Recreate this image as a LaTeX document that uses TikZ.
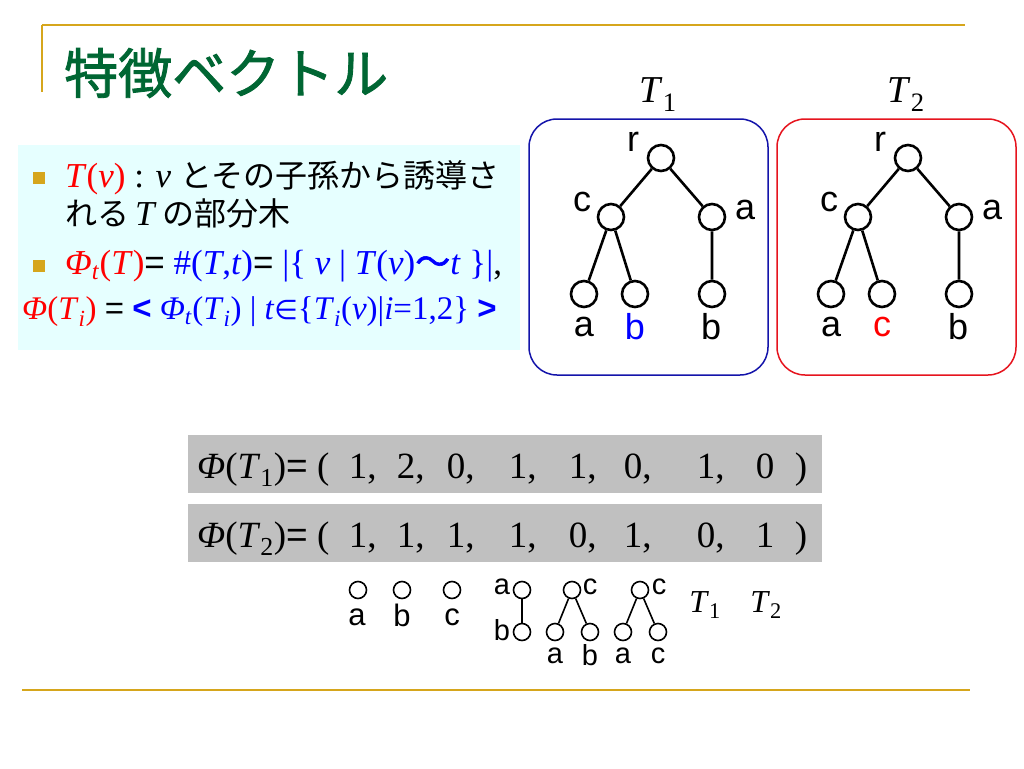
\documentclass[tikz,border=0pt]{standalone}
\usepackage{fontspec}
\setmainfont{Liberation Serif}
\newfontfamily\arial{Liberation Sans}
\newfontfamily\jp{Noto Sans CJK JP}
\newfontfamily\jpbold[FakeBold=1.6]{Noto Sans CJK JP}
\newfontfamily\dvs{DejaVu Sans}
\usepackage{tikz}
\definecolor{gold}{RGB}{214,166,28}
\definecolor{titlegreen}{RGB}{0,102,51}
\definecolor{panelcyan}{RGB}{230,255,255}
\definecolor{rowgray}{RGB}{192,192,192}
\definecolor{treeblue}{RGB}{20,20,170}
\definecolor{treered}{RGB}{230,20,30}
\newcommand{\fs}[1]{\fontsize{#1}{#1}\selectfont}
\newcommand{\ti}[1]{\textit{#1}}
\newcommand{\sbs}[1]{\textsubscript{#1}}

\begin{document}
\begin{tikzpicture}[x=1pt, y=-1pt,
  vtx/.style={circle,draw,line width=2.6,minimum size=26,inner sep=0},
  dot/.style={circle,draw,line width=1.6,minimum size=17,inner sep=0},
  lbl/.style={inner sep=0,font=\arial\fs{36}},
  slbl/.style={inner sep=0,font=\arial\fs{31}},
  tlbl/.style={inner sep=0,font=\arial\fs{29}},
  txt/.style={anchor=west,inner sep=0,font=\fs{35}},
  num/.style={anchor=base,inner sep=0,font=\fs{37}}]

\useasboundingbox (0,0) rectangle (1024,768);
\fill[white] (0,0) rectangle (1024,768);

% title
\draw[gold,line width=1.8] (42,25) -- (965,25);
\draw[gold,line width=1.8] (42,25) -- (42,92);
\node[anchor=west,inner sep=0,text=titlegreen,font=\jpbold\fs{54}] (title) at (64,73) {特徴ベクトル};
\draw[gold,line width=1.8] (22,690) -- (970,690);

% definitions
\fill[panelcyan] (18,145) rectangle (520,350);
\fill[gold] (33,172) rectangle (45,184);
\fill[gold] (33,260) rectangle (45,272);

\node[txt] (def1) at (65,178) {{\color{red}\ti{T}(\ti{v})} : \ti{v} {\jp\fs{32}とその子孫から誘導さ}};
\node[txt] (def2) at (65,213) {{\jp\fs{32}れる}\,\ti{T}\,{\jp\fs{32}の部分木}};
\node[txt] (def3) at (65,266) {{\color{red}\ti{Φ}\sbs{\ti{t}}(\ti{T})}{\arial =} {\color{blue}\#(\ti{T},\ti{t})}{\arial =} {\color{blue}|\{ \ti{v} | \ti{T}(\ti{v}){\jpbold 〜}\ti{t} \}|},};
\node[txt,font=\fs{33}] (def4) at (22,312) {{\color{red}\ti{Φ}(\ti{T}\sbs{\ti{i}})} {\arial =} {\color{blue}{\arial\bfseries <} \ti{Φ}\sbs{\ti{t}}(\ti{T}\sbs{\ti{i}}) | \ti{t}{\dvs\fs{27}∈}\{\ti{T}\sbs{\ti{i}}(\ti{v})|\ti{i}=1,2\} {\arial\bfseries >}}};

% trees
\node[inner sep=0,font=\fs{38}] (name1) at (658,95) {\ti{T}\sbs{1}};
\node[inner sep=0,font=\fs{38}] (name2) at (906,95) {\ti{T}\sbs{2}};
\draw[treeblue,line width=1.5,rounded corners=28] (529,119) rectangle (768,375);
\draw[treered,line width=1.5,rounded corners=28] (777,119) rectangle (1016,375);

\node[vtx] (r1) at (661,158) {};
\node[vtx] (c1) at (611,217) {};
\node[vtx] (a1) at (712,217) {};
\node[vtx] (ca1) at (584,294) {};
\node[vtx] (cb1) at (635,294) {};
\node[vtx] (ab1) at (712,294) {};
\draw[line width=2.6] (r1) -- (c1) (r1) -- (a1) (c1) -- (ca1) (c1) -- (cb1) (a1) -- (ab1);
\node[lbl] at (633,142) {r};
\node[lbl] at (582,202) {c};
\node[lbl] at (745,210) {a};
\node[lbl] at (584,327) {a};
\node[lbl,text=blue] at (635,327) {b};
\node[lbl] at (711,327) {b};

\node[vtx] (r2) at (908,158) {};
\node[vtx] (c2) at (858,217) {};
\node[vtx] (a2) at (959,217) {};
\node[vtx] (ca2) at (831,294) {};
\node[vtx] (cb2) at (882,294) {};
\node[vtx] (ab2) at (959,294) {};
\draw[line width=2.6] (r2) -- (c2) (r2) -- (a2) (c2) -- (ca2) (c2) -- (cb2) (a2) -- (ab2);
\node[lbl] at (880,142) {r};
\node[lbl] at (829,202) {c};
\node[lbl] at (992,210) {a};
\node[lbl] at (831,327) {a};
\node[lbl,text=red] at (882,327) {c};
\node[lbl] at (958,327) {b};

% vectors
\fill[rowgray] (188,435) rectangle (822,493);
\fill[rowgray] (188,504) rectangle (822,562);
\node[anchor=base west,inner sep=0,font=\fs{37}] (phi1) at (197,478) {\ti{Φ}(\ti{T}\sbs{1}){\arial =} (};
\node[anchor=base west,inner sep=0,font=\fs{37}] (phi2) at (197,547) {\ti{Φ}(\ti{T}\sbs{2}){\arial =} (};

\node[num] (v11) at (358,478) {1\rlap{,}};
\node[num] (v12) at (406,478) {2\rlap{,}};
\node[num] (v13) at (456,478) {0\rlap{,}};
\node[num] (v14) at (518,478) {1\rlap{,}};
\node[num] (v15) at (578,478) {1\rlap{,}};
\node[num] (v16) at (633,478) {0\rlap{,}};
\node[num] (v17) at (706,478) {1\rlap{,}};
\node[num] (v18) at (765,478) {0};
\node[num] (end1) at (801,478) {)};

\node[num] (v21) at (358,547) {1\rlap{,}};
\node[num] (v22) at (406,547) {1\rlap{,}};
\node[num] (v23) at (456,547) {1\rlap{,}};
\node[num] (v24) at (518,547) {1\rlap{,}};
\node[num] (v25) at (578,547) {0\rlap{,}};
\node[num] (v26) at (633,547) {1\rlap{,}};
\node[num] (v27) at (706,547) {0\rlap{,}};
\node[num] (v28) at (765,547) {1};
\node[num] (end2) at (801,547) {)};

% subtrees
\node[dot] (sa) at (358,590) {};
\node[dot] (sb) at (402,590) {};
\node[dot] (sc) at (452,590) {};
\node[slbl] at (357,617) {a};
\node[slbl] at (402,615) {b};
\node[slbl] at (452,617) {c};

\node[dot] (pa) at (522,590) {};
\node[dot] (pb) at (522,632) {};
\draw[line width=1.6] (pa) -- (pb);
\node[tlbl] at (502,587) {a};
\node[tlbl] at (502,630) {b};

\node[dot] (qc) at (572,590) {};
\node[dot] (qa) at (555,632) {};
\node[dot] (qb) at (590,632) {};
\draw[line width=1.6] (qc) -- (qa) (qc) -- (qb);
\node[tlbl] at (590,587) {c};
\node[tlbl] at (555,656) {a};
\node[tlbl] at (590,655) {b};

\node[dot] (uc) at (640,590) {};
\node[dot] (ua) at (623,632) {};
\node[dot] (ucc) at (658,632) {};
\draw[line width=1.6] (uc) -- (ua) (uc) -- (ucc);
\node[tlbl] at (659,587) {c};
\node[tlbl] at (623,656) {a};
\node[tlbl] at (658,656) {c};

\node[inner sep=0,font=\fs{32}] (leg1) at (705,605) {\ti{T}\sbs{1}};
\node[inner sep=0,font=\fs{32}] (leg2) at (766,605) {\ti{T}\sbs{2}};

\end{tikzpicture}
\end{document}
